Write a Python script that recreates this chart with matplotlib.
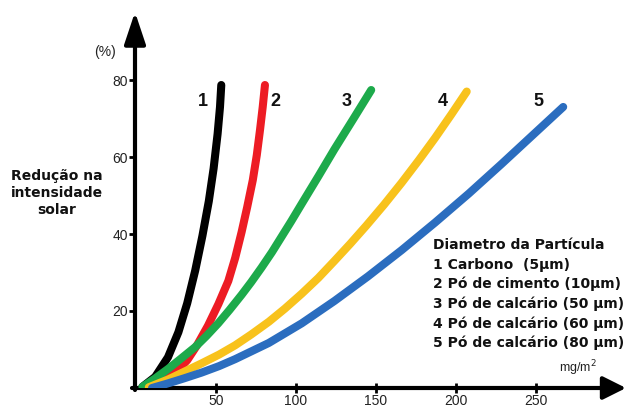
import matplotlib
matplotlib.use("Agg")
import matplotlib.pyplot as plt

# ---- data ----
x1 = [4, 12, 20, 26.5, 32, 37, 41.5, 45.5, 48.5, 51, 52.5, 53.3]
y1 = [0.3, 2.9, 8, 14.5, 22, 30.5, 39.5, 48.5, 57, 66, 73, 78.7]

x2 = [8, 14, 20, 26, 32, 38, 45, 51.5, 57.7, 62, 66, 69.5, 73, 75.5, 77.5, 79.2, 80.6]
y2 = [0, 1.2, 2.6, 4.6, 7.2, 11, 16.2, 21.8, 27.8, 33.8, 40.5, 47, 54, 60.5, 67, 73, 78.7]

x3 = [4, 12, 20.2, 28, 36.9, 44, 51.4, 58.5, 66, 72, 78.5, 85, 91, 97, 103.5, 114, 124, 136, 147]
y3 = [0.3, 2.5, 5, 7.6, 10.6, 13.5, 16.8, 20.3, 24.2, 27.5, 31.3, 35.3, 39.3, 43.3, 47.8, 55, 62, 70, 77.4]

x4 = [8, 20, 30, 41, 52, 62, 72, 83, 93, 103.6, 114, 124, 134, 144, 155, 166, 177, 187, 197, 206.7]
y4 = [0.2, 2.2, 4.2, 6.4, 8.7, 11.1, 13.9, 17.2, 20.6, 24.5, 28.6, 33, 37.5, 42.2, 47.6, 53.3, 59.3, 65, 71, 77]

x5 = [10, 20, 30, 41, 52, 62, 83, 103.6, 124, 145, 166, 187, 208, 228.5, 248, 267]
y5 = [0, 1.2, 2.5, 4.0, 5.7, 7.5, 11.7, 16.8, 22.6, 29.0, 35.8, 43, 50.5, 58.2, 65.7, 73]

series_labels = ["1", "2", "3", "4", "5"]
colors = ["#000000", "#ED1C24", "#1DAA4B", "#F8C21C", "#2B6DBF"]

xticks = [50, 100, 150, 200, 250]
yticks = [20, 40, 60, 80]

legend_lines = [
    "Diametro da Partícula",
    "1 Carbono  (5µm)",
    "2 Pó de cimento (10µm)",
    "3 Pó de calcário (50 µm)",
    "4 Pó de calcário (60 µm)",
    "5 Pó de calcário (80 µm)",
]

W, H = 626, 407
fig = plt.figure(figsize=(W / 100, H / 100), dpi=100)

# axes: x=0 at px 136, 1.6 px/unit ; y=0 at py 388, 3.85 px/unit
x0, y0 = 136, 388
sx, sy = 1.6, 3.85
xmax, ymax = 300, 97
ax = fig.add_axes([x0 / W, (H - y0) / H, xmax * sx / W, ymax * sy / H])
ax.set_xlim(0, xmax)
ax.set_ylim(0, ymax)
for s in ax.spines.values():
    s.set_visible(False)
ax.patch.set_alpha(0)

# curves
order = [4, 3, 1, 2, 0]
xs = [x1, x2, x3, x4, x5]
ys = [y1, y2, y3, y4, y5]
for i in order:
    ax.plot(xs[i], ys[i], color=colors[i], lw=5.8, solid_capstyle="round",
            solid_joinstyle="round", zorder=3 + i)

# ticks
ax.set_xticks(xticks)
ax.set_xticklabels([str(t) for t in xticks], fontsize=10, family="Liberation Sans", color="#222222")
ax.set_yticks(yticks)
ax.set_yticklabels([str(t) for t in yticks], fontsize=10, family="Liberation Sans", color="#222222")
ax.tick_params(axis="x", direction="inout", length=7, width=2, pad=1, color="black")
ax.tick_params(axis="y", direction="out", length=5, width=2, pad=1, color="black")

# axis arrows (figure pixels, origin bottom-left)
ax.annotate("", xy=(626, H - y0), xytext=(132, H - y0), xycoords="figure pixels",
            textcoords="figure pixels",
            arrowprops=dict(arrowstyle="-|>,head_length=1.4,head_width=0.7",
                            mutation_scale=10, lw=3, color="black",
                            shrinkA=0, shrinkB=0))
ax.annotate("", xy=(x0 - 1, H - 12), xytext=(x0 - 1, H - y0 - 2), xycoords="figure pixels",
            textcoords="figure pixels",
            arrowprops=dict(arrowstyle="-|>,head_length=1.95,head_width=0.65",
                            mutation_scale=10, lw=3, color="black",
                            shrinkA=0, shrinkB=0))

def ftext(px, py, s, **kw):
    fig.text(px / W, 1 - py / H, s, **kw)

# labels
ftext(105, 52, "(%)", fontsize=10, family="Liberation Sans", ha="center", va="center", color="#222222")
ftext(57, 193, "Redução na\nintensidade\nsolar", fontsize=10, family="DejaVu Sans",
      fontweight="bold", ha="center", va="center", linespacing=1.25, color="#111111")
ftext(578, 368, "mg/m$^2$", fontsize=9, family="Liberation Sans", ha="center", va="center", color="#222222")

num_pos = [(203, 101), (275, 101), (347, 101), (443, 101), (538, 101)]
for lab, (px, py) in zip(series_labels, num_pos):
    ftext(px, py, lab, fontsize=13, family="Liberation Sans", fontweight="bold",
          ha="center", va="center", color="#111111")

for k, line in enumerate(legend_lines):
    ftext(433, 245 + k * 19.6, line, fontsize=10, family="DejaVu Sans", fontweight="bold",
          ha="left", va="center", color="#111111")

fig.savefig("out.png", dpi=100)
